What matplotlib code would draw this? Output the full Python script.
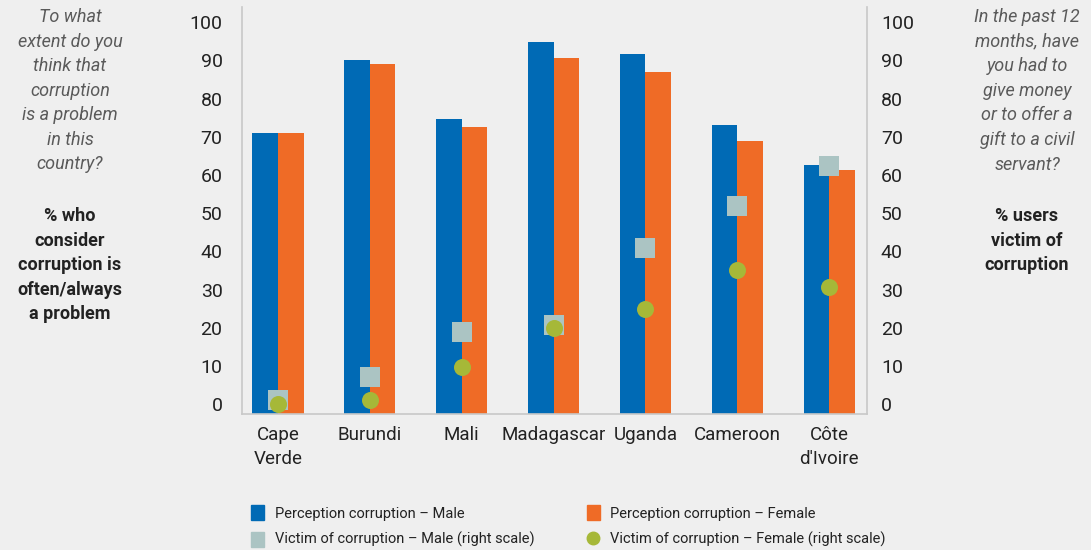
import numpy as np
import matplotlib

matplotlib.use("Agg")
import matplotlib.pyplot as plt
from matplotlib.lines import Line2D
from matplotlib.patches import Patch

BLUE = "#006AB5"
ORANGE = "#EF6B26"
GREY_SQ = "#ABC4C3"
GREEN = "#A6B838"
BG = "#EFEFEF"
SPINE = "#C8C8C8"
TEXT = "#222222"

countries = ["Cape\nVerde", "Burundi", "Mali", "Madagascar", "Uganda", "Cameroon", "Côte\nd'Ivoire"]
perception_male = [70.9, 90.0, 74.6, 94.8, 91.6, 73.0, 62.6]
perception_female = [70.9, 89.0, 72.5, 90.6, 86.9, 68.8, 61.3]
victim_male = [1.0, 7.0, 19.0, 20.7, 41.0, 52.0, 62.3]
victim_female = [0.0, 1.0, 9.7, 20.0, 25.0, 35.0, 30.6]

plt.rcParams["font.family"] = ["Roboto", "DejaVu Sans"]

fig = plt.figure(figsize=(10.91, 5.5), dpi=100, facecolor=BG)
ax = fig.add_axes([242 / 1091, 1 - 414 / 550, 625 / 1091, 407 / 550])
ax.set_facecolor(BG)

ymin, ymax = -2.6, 104
x = np.arange(len(countries))
w = 0.28
ax.bar(x - w / 2, np.array(perception_male) - ymin, bottom=ymin, width=w, color=BLUE, zorder=2)
ax.bar(x + w / 2, np.array(perception_female) - ymin, bottom=ymin, width=w, color=ORANGE, zorder=2)
ax.set_ylim(ymin, ymax)
ax.set_xlim(-0.39, len(countries) - 0.59)

ax2 = ax.twinx()
ax2.set_ylim(ymin, ymax)
ax2.scatter(x, victim_male, marker="s", s=190, color=GREY_SQ, zorder=3, linewidths=0)
ax2.scatter(x, victim_female, marker="o", s=150, color=GREEN, zorder=4, linewidths=0)

ticks = np.arange(0, 101, 10)
for a in (ax, ax2):
    a.set_yticks(ticks)
    a.tick_params(axis="y", length=0, labelsize=14, colors=TEXT, pad=14)
    for s in a.spines.values():
        s.set_color(SPINE)
        s.set_linewidth(1.2)
    a.spines["top"].set_visible(False)
ax2.spines["left"].set_visible(False)
ax2.spines["bottom"].set_visible(False)
ax.spines["right"].set_visible(False)
ax2.tick_params(axis="y", pad=10)

ax.set_xticks(x)
ax.set_xticklabels(countries, fontsize=13.5, color=TEXT, linespacing=1.4)
ax.tick_params(axis="x", length=0, pad=9)

# side annotations
side_kw = dict(ha="center", va="top", fontsize=13, linespacing=1.47)
fig.text(70 / 1091, 1 - 8 / 550,
         "To what\nextent do you\nthink that\ncorruption\nis a problem\nin this\ncountry?",
         style="italic", color="#5A5A5A", **side_kw)
fig.text(70 / 1091, 1 - 207 / 550,
         "% who\nconsider\ncorruption is\noften/always\na problem",
         weight="bold", color=TEXT, **side_kw)
fig.text(1027 / 1091, 1 - 8 / 550,
         "In the past 12\nmonths, have\nyou had to\ngive money\nor to offer a\ngift to a civil\nservant?",
         style="italic", color="#5A5A5A", **side_kw)
fig.text(1027 / 1091, 1 - 207 / 550,
         "% users\nvictim of\ncorruption",
         weight="bold", color=TEXT, **side_kw)

handles = [
    Patch(color=BLUE, label="Perception corruption – Male"),
    Patch(color=GREY_SQ, label="Victim of corruption – Male (right scale)"),
    Patch(color=ORANGE, label="Perception corruption – Female"),
    Line2D([], [], marker="o", linestyle="", markersize=9, color=GREEN,
           label="Victim of corruption – Female (right scale)"),
]
fig.legend(handles=handles, ncol=2, loc="upper left",
           bbox_to_anchor=(244 / 1091, 1 - 498 / 550), frameon=False,
           fontsize=10.5, handlelength=0.9, handleheight=1.2, handletextpad=0.7,
           columnspacing=3.6, labelspacing=0.75, labelcolor=TEXT, borderpad=0)

fig.savefig("out.png", dpi=100, facecolor=BG)
